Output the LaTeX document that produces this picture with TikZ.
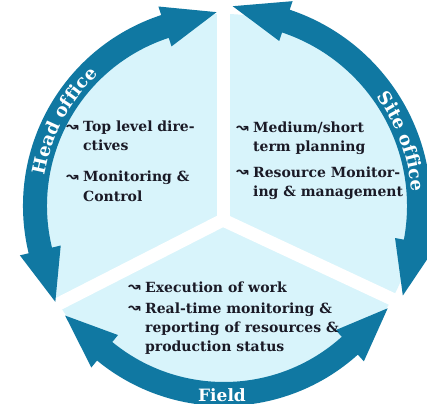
\documentclass[tikz,border=0pt]{standalone}
\usepackage{fontspec}
\setmainfont{DejaVu Serif}
\newfontfamily\arrowfont{DejaVu Sans}
\usetikzlibrary{decorations.text}
\definecolor{ringblue}{RGB}{16,120,162}
\definecolor{paleblue}{RGB}{216,244,251}
\definecolor{inkdark}{RGB}{26,26,38}
\newcommand{\bul}{\makebox[17pt][l]{\raisebox{0.5pt}{\fontsize{15}{15}\selectfont\arrowfont\bfseries ↝}}}
\newcommand{\dblarrow}[4]{%
  \pgfmathsetmacro{\aA}{#1+16}%
  \pgfmathsetmacro{\bB}{#2-16}%
  \pgfmathsetmacro{\rmid}{(#3+#4)/2}%
  \pgfmathsetmacro{\rtip}{\rmid+5}%
  \pgfmathsetmacro{\hin}{#3-9}%
  \pgfmathsetmacro{\hout}{#4+9}%
  \fill[ringblue] (#1:\rtip pt) -- (\aA:\hout pt) -- (\aA:#4pt)
    arc[start angle=\aA, end angle=\bB, radius=#4pt] -- (\bB:\hout pt) -- (#2:\rtip pt)
    -- (\bB:\hin pt) -- (\bB:#3pt) arc[start angle=\bB, end angle=\aA, radius=#3pt]
    -- (\aA:\hin pt) -- cycle;}
\begin{document}
\begin{tikzpicture}[x=1pt,y=-1pt,
  itemtext/.style={inner sep=0pt, anchor=base west, text=inkdark, font=\fontsize{14}{19}\selectfont\bfseries},
  gapline/.style={white, line width=13pt},
  ringlabel/.style={text=white, font=\fontsize{17}{17}\selectfont\bfseries, inner sep=0pt}]
\useasboundingbox (0,0) rectangle (427,403);
\fill[white] (0,0) rectangle (427,403);
\coordinate (C) at (224,206);
\coordinate (J) at (223,220);
\fill[paleblue] (C) circle[radius=192pt];
\coordinate (gtop) at (223,-5);
\coordinate (gleft) at (27,320);
\coordinate (gright) at (422,313);
\draw[gapline] (J) -- (gtop);
\draw[gapline] (J) -- (gleft);
\draw[gapline] (J) -- (gright);
\fill[white] (J) circle[radius=6pt];
\begin{scope}[shift={(C)}]
  \dblarrow{92.2}{209.6}{177}{201}
  \dblarrow{-26.6}{87.5}{183}{207}
  \dblarrow{214.6}{328}{176}{200}
  \path[decorate, decoration={text along path, text align=center,
    text={|\fontsize{18}{18}\selectfont\bfseries\color{white}|Head office}}]
    (176:182pt) arc[start angle=176, end angle=128, radius=182pt];
  \path[decorate, decoration={text along path, text align=center,
    text={|\fontsize{18}{18}\selectfont\bfseries\color{white}|Site office}}]
    (44:188pt) arc[start angle=44, end angle=-4, radius=188pt];
\end{scope}
\node[ringlabel, anchor=base] (fieldlbl) at (222,401) {Field};
\node[itemtext] (ho1) at (66,132) {\begin{tabular}[t]{@{}l@{}l@{}}\bul&Top level dire-\\&ctives\end{tabular}};
\node[itemtext] (ho2) at (66,182) {\begin{tabular}[t]{@{}l@{}l@{}}\bul&Monitoring \&\\&Control\end{tabular}};
\node[itemtext] (so1) at (236,133) {\begin{tabular}[t]{@{}l@{}l@{}}\bul&Medium/short\\&term planning\end{tabular}};
\node[itemtext] (so2) at (236,177) {\begin{tabular}[t]{@{}l@{}l@{}}\bul&Resource Monitor-\\&ing \& management\end{tabular}};
\node[itemtext] (fd1) at (128,292) {\begin{tabular}[t]{@{}l@{}l@{}}\bul&Execution of work\end{tabular}};
\node[itemtext] (fd2) at (128,313) {\begin{tabular}[t]{@{}l@{}l@{}}\bul&Real-time monitoring \&\\&reporting of resources \&\\&production status\end{tabular}};
\end{tikzpicture}
\end{document}
